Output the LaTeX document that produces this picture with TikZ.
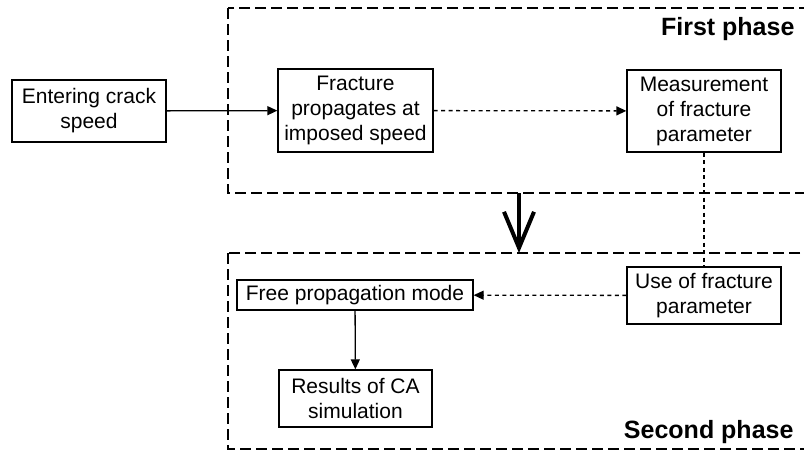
\documentclass[tikz,border=0pt]{standalone}
\usepackage{fontspec}
\setmainfont{Liberation Sans}
\usetikzlibrary{arrows.meta,positioning}

\tikzset{
  stage/.style={draw, line width=1.3pt, align=center, inner sep=0pt,
    font=\fontsize{21}{25}\selectfont},
  phasebox/.style={line width=1.3pt, dash pattern=on 11pt off 5pt},
  phaselabel/.style={anchor=east, font=\fontsize{25}{28}\selectfont\bfseries},
  flow/.style={line width=1.3pt, -{Triangle[length=10pt,width=9pt]}},
  hint/.style={line width=1.3pt, dash pattern=on 4pt off 3.5pt},
}

\begin{document}
\begin{tikzpicture}[x=1pt, y=-1pt]
  \clip (0,0) rectangle (804,453);
  % the two phase frames run off the right edge
  \draw[phasebox] (228,8) rectangle (830,193);
  \draw[phasebox] (228,253) rectangle (830,449);
  \node[phaselabel] (first) at (798,29) {First phase};
  \node[phaselabel] (second) at (797,432) {Second phase};

  % first phase
  \node[stage, minimum width=154pt, minimum height=62pt] (entry) at (89,111)
    {Entering crack\\speed};
  \node[stage, minimum width=155pt, minimum height=83pt] (imposed) at (355.5,110.5)
    {Fracture\\propagates at\\imposed speed};
  \node[stage, minimum width=154pt, minimum height=82pt] (measure) at (704,111)
    {Measurement\\of fracture\\parameter};

  % second phase
  \node[stage, minimum width=154pt, minimum height=57pt] (use) at (704,295.5)
    {Use of fracture\\parameter};
  \node[stage, minimum width=236pt, minimum height=30pt] (free) at (355,295)
    {Free propagation mode};
  \node[stage, minimum width=153pt, minimum height=57pt] (results) at (355.5,398.5)
    {Results of CA\\simulation};

  % connectors
  \draw[flow] (entry) -- (imposed);
  \draw[flow, hint] (imposed) -- (measure);
  \draw[hint] (measure) -- (use);
  \draw[flow, hint] (use) -- (free);
  \draw[flow] (free) -- (results);

  % switch from first to second phase
  \coordinate (switchtop) at (519,193);
  \coordinate (switchend) at (519,253);
  \draw[line width=4pt, -{Straight Barb[length=36pt,width=30pt]}] (switchtop) -- (switchend);
\end{tikzpicture}
\end{document}
